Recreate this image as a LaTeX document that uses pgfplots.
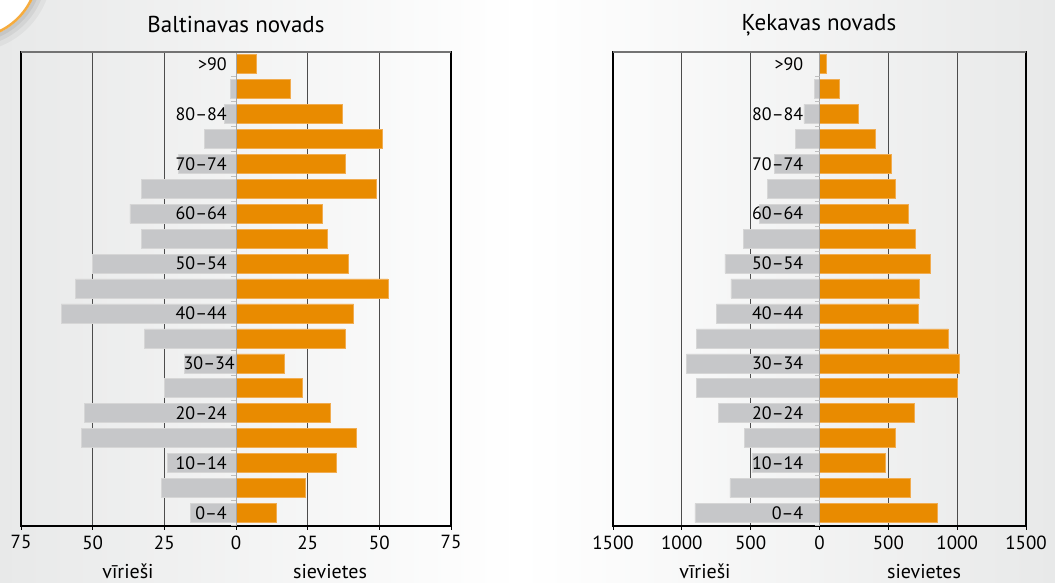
\documentclass[border=0pt]{standalone}
\usepackage{pgfplots}
\usepackage{pgfplotstable}
\pgfplotsset{compat=1.18}
\usepackage{fontspec}
\setmainfont{PT Sans}
\definecolor{bgside}{RGB}{232,233,233}
\definecolor{mfill}{RGB}{198,199,201}
\definecolor{mdraw}{RGB}{214,214,214}
\definecolor{ffill}{RGB}{233,139,0}
\definecolor{fdraw}{RGB}{241,172,80}
\definecolor{ring}{RGB}{246,172,62}

% Baltinavas novads (people per 5-year age group), index 0 = 0-4 ... 18 = >90
\pgfplotstableread{
y  m   f
0  16  14
1  26  24
2  24  35
3  54  42
4  53  33
5  25  23
6  18  17
7  32  38
8  61  41
9  56  53
10 50  39
11 33  32
12 37  30
13 33  49
14 20  38
15 11  51
16 4   37
17 2   19
18 0   7
}\baltinavas
% Kekavas novads
\pgfplotstableread{
y  m    f
0  905  854
1  651  660
2  491  481
3  544  554
4  733  689
5  893  1000
6  965  1016
7  893  936
8  750  716
9  643  726
10 687  805
11 551  697
12 435  648
13 377  549
14 329  520
15 174  406
16 114  283
17 36   145
18 0    51
}\kekavas

\pgfplotsset{pyr/.style={
  scale only axis, height=474pt,
  ymin=-0.52, ymax=18.48, ytick=\empty,
  xbar, bar shift=0pt, bar width=19pt,
  tick align=outside, xtick pos=lower, major tick length=4pt,
  xmajorgrids, grid style={draw=black!70, line width=0.8pt},
  axis line style={line width=1.3pt, black},
  tick style={black, line width=0.8pt},
  /pgf/number format/assume math mode=true,
  /pgf/number format/1000 sep={},
  xticklabel={\pgfmathparse{abs(\tick)}\pgfmathprintnumber[fixed,precision=0]{\pgfmathresult}},
  xticklabel style={font=\fontsize{19}{21}\selectfont, yshift=-2pt},
  clip=false,
}}
\tikzset{cat/.style={anchor=east, font=\fontsize{18}{20}\selectfont, inner sep=0pt},
  sexlab/.style={anchor=base, inner sep=0pt, font=\fontsize{20}{22}\selectfont}}

\begin{document}
\begin{tikzpicture}[x=1pt,y=1pt]
\shade[left color=bgside, right color=white] (0pt,0pt) rectangle (520pt,583pt);
\shade[left color=white, right color=bgside] (520pt,0pt) rectangle (1055pt,583pt);
\useasboundingbox (0pt,0pt) rectangle (1055pt,583pt);
% corner decoration
\fill[black, opacity=0.04] (-30pt,613pt) circle (82pt);
\fill[black, opacity=0.05] (-30pt,613pt) circle (77pt);
\fill[black, opacity=0.06] (-30pt,613pt) circle (73pt);
\fill[white] (-30pt,613pt) circle (69pt);
\draw[ring, line width=2.5pt] (-30pt,613pt) circle (68pt);

% ---------- Baltinavas ----------
\begin{axis}[pyr, at={(21pt,57pt)}, anchor=south west, width=430pt,
  xmin=-75, xmax=75, xtick={-75,-50,-25,0,25,50,75}]
\addplot[fill=mfill, draw=mdraw, line width=0.6pt] table[x expr=-\thisrow{m}, y=y] {\baltinavas};
\addplot[fill=ffill, draw=fdraw, line width=0.6pt] table[x=f, y=y] {\baltinavas};
\draw[black!35, line width=0.8pt] (axis cs:0,-0.52) -- (axis cs:0,18.48);
\pgfplotsinvokeforeach{-0.5,0.5,...,17.5}{\draw[black!25, line width=0.8pt] (axis cs:0,#1) -- ++(-5pt,0pt);}
\draw[black!55, line width=1.3pt] (rel axis cs:0,1) -- (rel axis cs:1,1);
\node[cat] at ([xshift=-9pt]axis cs:0,0) {0–4};
\node[cat] at ([xshift=-9pt]axis cs:0,2) {10–14};
\node[cat] at ([xshift=-9pt]axis cs:0,4) {20–24};
\node[cat] at ([xshift=-1pt]axis cs:0,6) {30–34};
\node[cat] at ([xshift=-9pt]axis cs:0,8) {40–44};
\node[cat] at ([xshift=-9pt]axis cs:0,10) {50–54};
\node[cat] at ([xshift=-9pt]axis cs:0,12) {60–64};
\node[cat] at ([xshift=-9pt]axis cs:0,14) {70–74};
\node[cat] at ([xshift=-9pt]axis cs:0,16) {80–84};
\node[cat] at ([xshift=-9pt]axis cs:0,18) {>90};
\end{axis}
\node[font=\fontsize{23}{26}\selectfont] at (236pt,558pt) {Baltinavas novads};
\node[sexlab] at (128pt,4pt) {vīrieši};
\node[sexlab] at (330pt,4pt) {sievietes};

% ---------- Kekava ----------
\begin{axis}[pyr, at={(613pt,57pt)}, anchor=south west, width=413pt,
  xmin=-1500, xmax=1500, xtick={-1500,-1000,-500,0,500,1000,1500}]
\addplot[fill=mfill, draw=mdraw, line width=0.6pt] table[x expr=-\thisrow{m}, y=y] {\kekavas};
\addplot[fill=ffill, draw=fdraw, line width=0.6pt] table[x=f, y=y] {\kekavas};
\draw[black!35, line width=0.8pt] (axis cs:0,-0.52) -- (axis cs:0,18.48);
\pgfplotsinvokeforeach{-0.5,0.5,...,17.5}{\draw[black!25, line width=0.8pt] (axis cs:0,#1) -- ++(-5pt,0pt);}
\draw[black!55, line width=1.3pt] (rel axis cs:0,1) -- (rel axis cs:1,1);
\node[cat] at ([xshift=-16pt]axis cs:0,0) {0–4};
\node[cat] at ([xshift=-16pt]axis cs:0,2) {10–14};
\node[cat] at ([xshift=-16pt]axis cs:0,4) {20–24};
\node[cat] at ([xshift=-16pt]axis cs:0,6) {30–34};
\node[cat] at ([xshift=-16pt]axis cs:0,8) {40–44};
\node[cat] at ([xshift=-16pt]axis cs:0,10) {50–54};
\node[cat] at ([xshift=-16pt]axis cs:0,12) {60–64};
\node[cat] at ([xshift=-16pt]axis cs:0,14) {70–74};
\node[cat] at ([xshift=-16pt]axis cs:0,16) {80–84};
\node[cat] at ([xshift=-16pt]axis cs:0,18) {>90};
\end{axis}
\node[font=\fontsize{23}{26}\selectfont] at (819pt,558pt) {Ķekavas novads};
\node[sexlab] at (705pt,4pt) {vīrieši};
\node[sexlab] at (924pt,4pt) {sievietes};
\end{tikzpicture}
\end{document}
